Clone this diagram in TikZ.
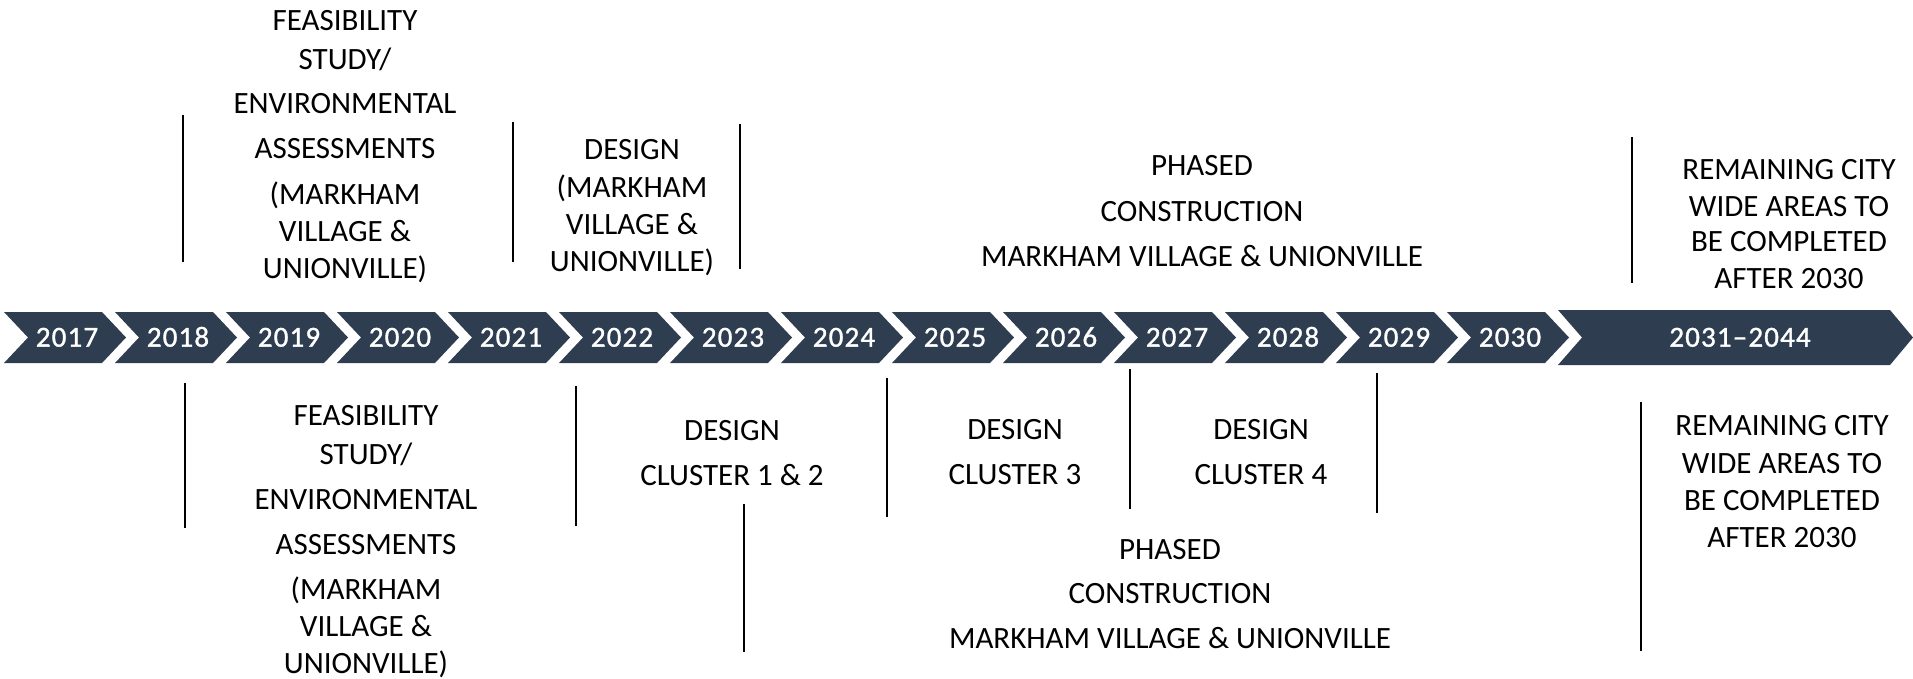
\documentclass[tikz,border=0pt]{standalone}
\usepackage{fontspec}
\setmainfont{Carlito}
\newfontfamily\yrfont[FakeBold=1.2,LetterSpace=4,Ligatures=TeX]{Carlito}
\definecolor{chev}{HTML}{2E3E50}
\begin{document}
\begin{tikzpicture}[x=1pt,y=-1pt,
  lbl/.style={font=\fontsize{31}{37}\selectfont, text height=19.6pt, text depth=0pt, inner sep=0pt, anchor=center},
  yrlbl/.style={font=\yrfont\fontsize{29}{35}\selectfont, text=white, text height=18.3pt, text depth=0pt, inner sep=0pt, anchor=center},
  divline/.style={line width=1.6pt, black},
  chevshape/.style={fill=chev, draw=none}]
\useasboundingbox (0,0) rectangle (1913,678);
% year chevrons
\foreach \i/\yr in {0/2017,1/2018,2/2019,3/2020,4/2021,5/2022,6/2023,7/2024,8/2025,9/2026,10/2027,11/2028,12/2029,13/2030}{
  \pgfmathsetmacro\L{4+111*\i}
  \path[chevshape] (\L,312) -- ++(98,0) -- ++(24,25.5) -- ++(-24,25.5) -- ++(-98,0) -- ++(24,-25.5) -- cycle;
  \node[yrlbl] (y\yr) at (\L+63,337.5) {\yr};
}
\path[chevshape] (1558,310) -- (1890,310) -- (1913,337.5) -- (1890,365) -- (1558,365) -- (1582,337.5) -- cycle;
\node[yrlbl] (y2031) at (1740,337.5) {2031–2044};

% top texts
\node[lbl] (tf1) at (345,21) {FEASIBILITY};
\node[lbl] (tf2) at (345,60) {STUDY/};
\node[lbl] (tf3) at (345,104) {ENVIRONMENTAL};
\node[lbl] (tf4) at (345,149) {ASSESSMENTS};
\node[lbl] (tf5) at (345,195) {(MARKHAM};
\node[lbl] (tf6) at (345,232) {VILLAGE \&};
\node[lbl] (tf7) at (345,269) {UNIONVILLE)};

\node[lbl] (td1) at (632,150) {DESIGN};
\node[lbl] (td2) at (632,188) {(MARKHAM};
\node[lbl] (td3) at (632,225) {VILLAGE \&};
\node[lbl] (td4) at (632,262) {UNIONVILLE)};

\node[lbl] (tp1) at (1202,166) {PHASED};
\node[lbl] (tp2) at (1202,212) {CONSTRUCTION};
\node[lbl] (tp3) at (1202,257) {MARKHAM VILLAGE \& UNIONVILLE};

\node[lbl] (tr1) at (1789,170) {REMAINING CITY};
\node[lbl] (tr2) at (1789,207) {WIDE AREAS TO};
\node[lbl] (tr3) at (1789,242) {BE COMPLETED};
\node[lbl] (tr4) at (1789,279) {AFTER 2030};

% bottom texts
\node[lbl] (bf1) at (366,416) {FEASIBILITY};
\node[lbl] (bf2) at (366,455) {STUDY/};
\node[lbl] (bf3) at (366,500) {ENVIRONMENTAL};
\node[lbl] (bf4) at (366,545) {ASSESSMENTS};
\node[lbl] (bf5) at (366,590) {(MARKHAM};
\node[lbl] (bf6) at (366,627) {VILLAGE \&};
\node[lbl] (bf7) at (366,664) {UNIONVILLE)};

\node[lbl] (bc1a) at (732,431) {DESIGN};
\node[lbl] (bc1b) at (732,476) {CLUSTER 1 \& 2};
\node[lbl] (bc3a) at (1015,430) {DESIGN};
\node[lbl] (bc3b) at (1015,475) {CLUSTER 3};
\node[lbl] (bc4a) at (1261,430) {DESIGN};
\node[lbl] (bc4b) at (1261,475) {CLUSTER 4};

\node[lbl] (bp1) at (1170,550) {PHASED};
\node[lbl] (bp2) at (1170,594) {CONSTRUCTION};
\node[lbl] (bp3) at (1170,639) {MARKHAM VILLAGE \& UNIONVILLE};

\node[lbl] (br1) at (1782,426) {REMAINING CITY};
\node[lbl] (br2) at (1782,464) {WIDE AREAS TO};
\node[lbl] (br3) at (1782,501) {BE COMPLETED};
\node[lbl] (br4) at (1782,538) {AFTER 2030};

% divider lines top
\draw[divline] (183,115) -- (183,262);
\draw[divline] (513,122) -- (513,262);
\draw[divline] (740,124) -- (740,269);
\draw[divline] (1632,137) -- (1632,283);
% divider lines bottom
\draw[divline] (185,383) -- (185,528);
\draw[divline] (576,386) -- (576,526);
\draw[divline] (887,378) -- (887,517);
\draw[divline] (744,504) -- (744,652);
\draw[divline] (1130,369) -- (1130,509);
\draw[divline] (1377,373) -- (1377,513);
\draw[divline] (1641,402) -- (1641,651);
\end{tikzpicture}
\end{document}
